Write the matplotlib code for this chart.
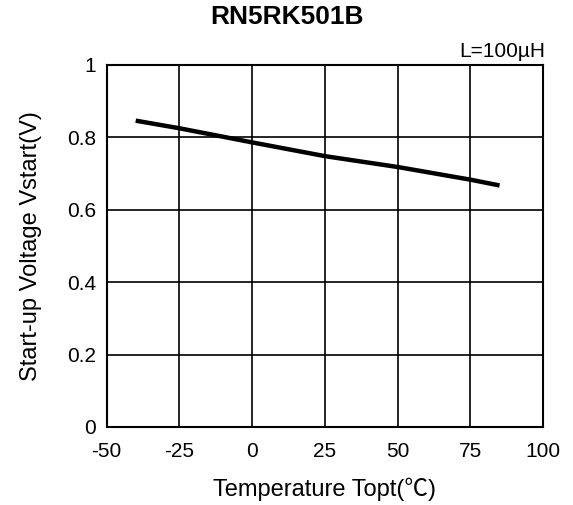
import numpy as np
import matplotlib
matplotlib.use("Agg")
import matplotlib.pyplot as plt

plt.rcParams['font.family'] = ['Liberation Sans', 'Noto Sans CJK JP', 'DejaVu Sans']
plt.rcParams['axes.unicode_minus'] = False

# данные
temp = [-40, -25, 0, 25, 50, 75, 85]
vstart = [0.846, 0.825, 0.786, 0.748, 0.718, 0.683, 0.667]
x_ticks = [-50, -25, 0, 25, 50, 75, 100]
y_ticks = [0, 0.2, 0.4, 0.6, 0.8, 1]
y_labels = ['0', '0.2', '0.4', '0.6', '0.8', '1']

fig = plt.figure(figsize=(5.73, 5.05), dpi=100)
ax = fig.add_axes([0.186, 0.1545, 0.762, 0.717])

ax.plot(temp, vstart, color='black', lw=3.2, solid_capstyle='butt')

ax.set_xlim(-50, 100)
ax.set_ylim(0, 1)
ax.set_xticks(x_ticks)
ax.set_yticks(y_ticks)
ax.set_yticklabels(y_labels)
ax.tick_params(length=0, labelsize=15)
ax.tick_params(axis='x', pad=11)
ax.tick_params(axis='y', pad=7.5)
ax.grid(True, color='black', lw=1.2)
for s in ax.spines.values():
    s.set_linewidth(1.5)

ax.set_xlabel('Temperature Topt(℃)', fontsize=17, labelpad=11.5)
ax.set_ylabel('Start-up Voltage Vstart(V)', fontsize=17)
ax.yaxis.set_label_coords(-0.147, 0.5)
fig.text(0.5, 0.966, 'RN5RK501B', fontsize=19, fontweight='bold', ha='center', va='center')
ax.text(1.005, 1.01, 'L=100µH', transform=ax.transAxes, fontsize=15, ha='right', va='bottom')

fig.savefig('out.png', dpi=100)
